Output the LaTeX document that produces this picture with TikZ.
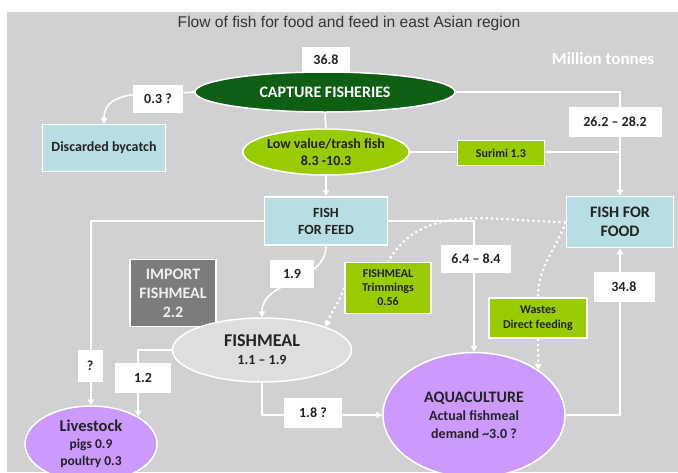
\documentclass[tikz,border=0pt]{standalone}
\usepackage{fontspec}
\setmainfont{Carlito}
\newfontfamily\titlefont{Liberation Sans}
\usetikzlibrary{shapes.geometric, arrows.meta, backgrounds}
\definecolor{bggray}{RGB}{209,209,211}
\definecolor{capgreen}{RGB}{14,94,20}
\definecolor{lime}{RGB}{153,204,0}
\definecolor{paleblue}{RGB}{183,222,226}
\definecolor{importgray}{RGB}{124,124,124}
\definecolor{mealgray}{RGB}{222,222,222}
\definecolor{lilac}{RGB}{204,153,255}
\definecolor{inkgray}{RGB}{35,35,35}

\begin{document}
\begin{tikzpicture}[x=1pt, y=-1pt,
    every node/.style={text=inkgray, align=center, inner sep=0pt},
    oval/.style={ellipse, draw=white, line width=1.5pt},
    panel/.style={rectangle, draw=white, line width=1.5pt},
    valbox/.style={rectangle, fill=white, font=\bfseries\fontsize{14}{16}\selectfont},
    flow/.style={draw=white, line width=1.6pt},
    arr/.style={flow, -{Triangle[length=6pt, width=6.5pt]}},
    dots/.style={draw=white, line width=2.2pt, dash pattern=on 2.2pt off 3pt},
    dotarr/.style={dots, -{Triangle[length=6pt, width=6.5pt]}}]
    \useasboundingbox (0,0) rectangle (678,472);
    \node (title) [font=\titlefont\fontsize{15.6}{18}\selectfont, text=black!80] at (349,23) {Flow of fish for food and feed in east Asian region};
    \node (unit) [font=\bfseries\fontsize{17}{20}\selectfont, text=white] at (603,59) {Million tonnes};
    \node (cap) [oval, fill=capgreen, minimum width=260pt, minimum height=40pt, text=white, font=\bfseries\fontsize{16}{19}\selectfont] at (325,92) {CAPTURE FISHERIES};
    \node (total) [valbox, minimum width=48pt, minimum height=26pt] at (326,60) {36.8};
    \node (disc) [panel, fill=paleblue, minimum width=123pt, minimum height=47pt, font=\bfseries\fontsize{14}{17}\selectfont] at (104,148) {Discarded bycatch};
    \node (lowv) [oval, fill=lime, minimum width=162pt, minimum height=46pt, font=\bfseries\fontsize{14}{17}\selectfont] at (326,152) {Low value/trash fish\\8.3 -10.3};
    \node (surimi) [panel, fill=lime, minimum width=87pt, minimum height=25pt, font=\bfseries\fontsize{12}{14}\selectfont] at (501,153) {Surimi 1.3};
    \node (ffood) [panel, fill=paleblue, minimum width=107pt, minimum height=51pt, font=\bfseries\fontsize{16}{19}\selectfont] at (620,222) {FISH FOR\\FOOD};
    \node (ffeed) [panel, fill=paleblue, minimum width=123pt, minimum height=48pt, font=\bfseries\fontsize{14}{17}\selectfont] at (326,221) {FISH\\FOR FEED};
    \node (import) [panel, fill=importgray, minimum width=86pt, minimum height=67pt, text=gray!12, font=\bfseries\fontsize{16}{19}\selectfont] at (173,293) {IMPORT\\FISHMEAL\\2.2};
    \node (fm) [oval, fill=mealgray, minimum width=179pt, minimum height=64pt, font=\bfseries\fontsize{18}{19}\selectfont] at (262,350) {FISHMEAL\\[-1pt]{\fontsize{14}{16}\selectfont 1.1 -- 1.9}};
    \node (trim) [panel, fill=lime, minimum width=86pt, minimum height=51pt, font=\bfseries\fontsize{12}{14}\selectfont] at (388,288) {FISHMEAL\\Trimmings\\0.56};
    \node (waste) [panel, fill=lime, minimum width=98pt, minimum height=40pt, font=\bfseries\fontsize{12}{15}\selectfont] at (538,318) {Wastes\\Direct feeding};
    \node (aq) [oval, fill=lilac, minimum width=182pt, minimum height=125pt, font=\bfseries\fontsize{14}{18}\selectfont] at (474,415) {{\fontsize{16}{18}\selectfont AQUACULTURE}\\Actual fishmeal\\demand \textasciitilde3.0 ?};
    \node (live) [oval, fill=lilac, minimum width=132pt, minimum height=76pt, font=\bfseries\fontsize{13.5}{17}\selectfont] at (91,444) {{\fontsize{16.5}{17}\selectfont Livestock}\\pigs 0.9\\poultry 0.3};
    \coordinate (join) at (lowv.east -| ffood.north);

    \node (v03) [valbox, minimum width=50pt, minimum height=28pt] at (158,99) {0.3 ?};
    \node (v262) [valbox, minimum width=93pt, minimum height=30pt] at (615,122) {26.2 -- 28.2};
    \node (vq) [valbox, minimum width=25pt, minimum height=32pt] at (90,366) {?};
    \node (v64) [valbox, minimum width=70pt, minimum height=28pt] at (476,259) {6.4 -- 8.4};
    \node (v19) [valbox, minimum width=44pt, minimum height=28pt] at (292,274) {1.9};
    \node (v348) [valbox, minimum width=61pt, minimum height=30pt] at (624,287) {34.8};
    \node (v18) [valbox, minimum width=58pt, minimum height=30pt] at (313,413) {1.8 ?};
    \node (v12) [valbox, minimum width=56pt, minimum height=30pt] at (143,378) {1.2};

    \begin{scope}[on background layer]
        \fill[bggray] (7,12) rectangle (678,472);
        \draw[flow] (cap.south) -- (lowv.north);
        \draw[arr] (lowv.south) -- (ffeed.north);
        \draw[arr] (cap.west) to[out=185, in=90] (disc.north);
        \draw[arr] (cap.east) -| (ffood.north);
        \draw[flow] (lowv.east) -- (join);
        \draw[arr] (ffeed.west) -| (live.north);
        \draw[arr] (ffeed.east) -| (aq.north);
        \draw[arr] (ffeed.south) to[out=-90, in=90] (fm.north);
        \draw[arr] (fm.west) -| (live.north east);
        \draw[arr] (fm.south) |- (aq.west);
        \draw[arr] (aq.east) -| (ffood.south);
        \draw[dots] (ffood.west) to[out=180, in=60] (trim.north);
        \draw[dots] (ffood.west) to[out=250, in=90] (waste.north);
        \draw[dotarr] (trim.west) to[out=250, in=70] (fm.north east);
        \draw[dotarr] (waste.south) -- (aq.35);
    \end{scope}
\end{tikzpicture}
\end{document}
